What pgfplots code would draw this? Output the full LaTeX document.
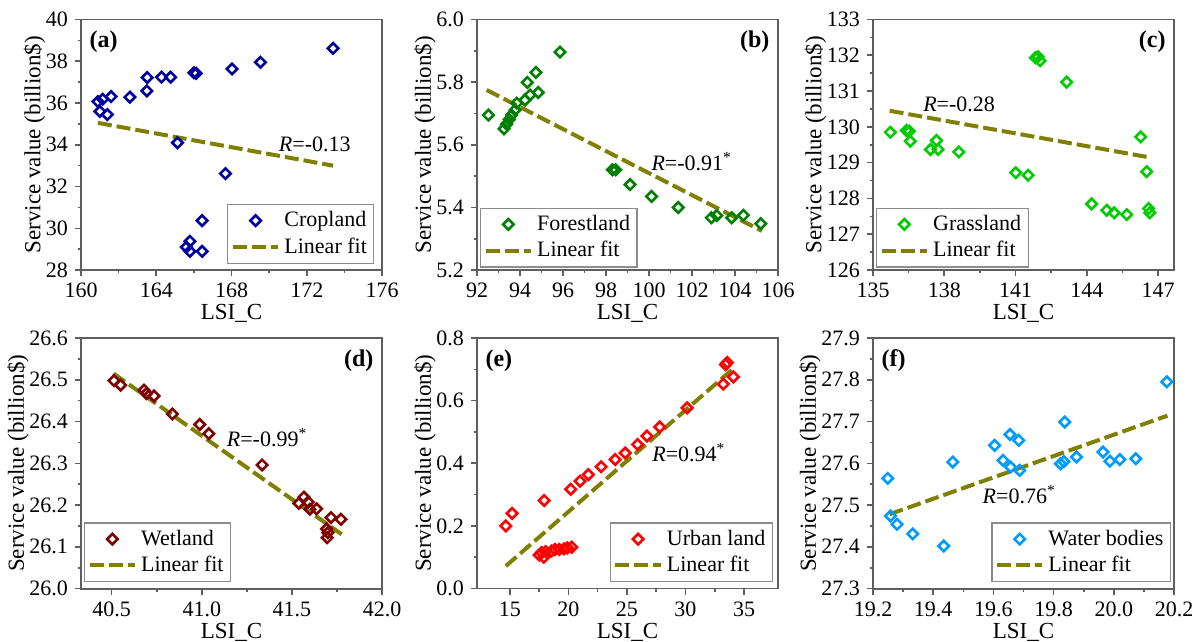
\documentclass[border=0pt]{standalone}
\usepackage{fontspec}
\setmainfont{Liberation Serif}
\usepackage{pgfplots}
\pgfplotsset{compat=1.18}

\definecolor{framec}{RGB}{95,95,95}
\definecolor{legc}{RGB}{140,140,140}
\definecolor{fitc}{RGB}{128,128,0}
\definecolor{cropc}{RGB}{0,0,160}
\definecolor{forc}{RGB}{0,128,0}
\definecolor{grassc}{RGB}{0,205,0}
\definecolor{wetc}{RGB}{128,0,0}
\definecolor{urbc}{RGB}{255,0,0}
\definecolor{watc}{RGB}{0,155,255}

\pgfplotsset{
  panel/.style={
    scale only axis, width=150.5pt, height=125.3pt, anchor=north west,
    axis line style={draw=framec, line width=0.9pt},
    tick align=outside, tick pos=left,
    major tick length=3pt, minor tick length=1.6pt,
    tick style={draw=framec, line width=0.8pt},
    minor x tick num=1, minor y tick num=1,
    /pgf/number format/assume math mode=true,
    tick label style={font=\fontsize{11}{13}\selectfont},
    label style={font=\fontsize{11.5}{13}\selectfont},
    xlabel={LSI\_C}, ylabel={Service value (billion\$)},
    xlabel shift=-3.5pt, ylabel shift=-6.5pt,
    legend cell align=left,
    legend style={draw=legc, line width=0.6pt, font=\fontsize{11}{13}\selectfont, inner sep=1.5pt},
  },
  scat/.style={only marks, mark=square, mark size=1.85pt, color=#1,
    mark options={rotate=45, line width=1.3pt, solid},
    legend image code/.code={\draw[mark repeat=2,mark phase=2,##1] plot coordinates {(0cm,0cm)(0.4cm,0cm)(0.8cm,0cm)};}},
  fit/.style={fitc, line width=2pt, dash pattern=on 7pt off 2.5pt,
    legend image code/.code={\draw[##1] (0cm,0cm) -- (0.8cm,0cm);}},
  oneprec/.style={#1ticklabel style={/pgf/number format/.cd, fixed, fixed zerofill, precision=1}},
}
\newcommand{\plab}[3]{\node[anchor=#2, inner sep=0pt, font=\fontsize{12}{14}\selectfont\bfseries] at (rel axis cs:#1) {#3};}
\newcommand{\rlab}[2]{\node[anchor=west, inner sep=0pt, font=\fontsize{11}{13}\selectfont] at (axis cs:#1) {#2};}

\begin{document}
\begin{tikzpicture}
% (a) Cropland
\begin{axis}[panel, at={(40.5pt,-9.75pt)},
  xmin=160, xmax=176, ymin=28, ymax=40,
  xtick={160,164,168,172,176}, ytick={28,30,32,34,36,38,40},
  legend style={at={(0.975,0.025)}, anchor=south east}]
\addplot[scat=cropc] coordinates {
 (160.9,36.07)(161.0,35.6)(161.15,36.18)(161.4,35.45)(161.6,36.31)(162.6,36.28)
 (163.5,36.58)(163.52,37.22)(164.28,37.24)(164.76,37.24)(166.0,37.45)(166.12,37.42)
 (168.03,37.63)(169.54,37.95)(173.4,38.62)(165.13,34.1)(167.68,32.62)(166.44,30.37)
 (165.6,29.1)(165.79,29.38)(165.79,28.9)(166.44,28.9)};
\addlegendentry{Cropland}
\addplot[fit] coordinates {(160.9,35.05)(173.4,33.0)};
\addlegendentry{Linear fit}
\rlab{170.5,34.0}{\textit{R}=-0.13}
\plab{0.027,0.955}{north west}{(a)}
\end{axis}

% (b) Forestland
\begin{axis}[panel, oneprec=y, at={(238.5pt,-9.75pt)},
  xmin=92, xmax=106, ymin=5.2, ymax=6.0,
  xtick={92,94,96,98,100,102,104,106}, ytick={5.2,5.4,5.6,5.8,6.0},
  legend style={at={(0.01,0.01)}, anchor=south west}]
\addplot[scat=forc] coordinates {
 (92.53,5.695)(93.26,5.651)(93.38,5.666)(93.5,5.681)(93.61,5.695)(93.77,5.711)
 (93.85,5.733)(94.23,5.743)(94.47,5.759)(94.34,5.799)(94.74,5.831)(94.85,5.767)
 (95.86,5.896)(98.3,5.52)(98.45,5.52)(99.12,5.473)(100.12,5.435)(101.36,5.40)
 (102.9,5.367)(103.15,5.374)(103.85,5.367)(104.39,5.375)(105.2,5.348)};
\addlegendentry{Forestland}
\addplot[fit] coordinates {(92.45,5.775)(105.25,5.325)};
\addlegendentry{Linear fit}
\rlab{100.1,5.545}{\textit{R}=-0.91\textsuperscript{*}}
\plab{0.973,0.955}{north east}{(b)}
\end{axis}

% (c) Grassland
\begin{axis}[panel, at={(436.5pt,-9.75pt)},
  xmin=135, xmax=147.67, ymin=126, ymax=133,
  xtick={135,138,141,144,147}, ytick={126,127,128,129,130,131,132,133},
  legend style={at={(0.01,0.01)}, anchor=south west}]
\addplot[scat=grassc] coordinates {
 (135.73,129.85)(136.41,129.9)(136.53,129.88)(136.57,129.6)(137.42,129.37)(137.67,129.62)
 (137.74,129.37)(138.61,129.3)(141.01,128.72)(141.53,128.65)(141.84,131.93)(141.95,131.96)
 (142.03,131.85)(143.15,131.25)(144.2,127.85)(144.84,127.67)(145.15,127.6)(145.68,127.55)
 (146.27,129.72)(146.52,128.75)(146.6,127.72)(146.65,127.6)};
\addlegendentry{Grassland}
\addplot[fit] coordinates {(135.7,130.45)(146.62,129.15)};
\addlegendentry{Linear fit}
\rlab{137.1,130.64}{\textit{R}=-0.28}
\plab{0.973,0.955}{north east}{(c)}
\end{axis}

% (d) Wetland
\begin{axis}[panel, oneprec=x, oneprec=y, at={(40.5pt,-169pt)},
  xmin=40.33, xmax=42, ymin=26.0, ymax=26.6,
  xtick={40.5,41.0,41.5,42.0}, ytick={26.0,26.1,26.2,26.3,26.4,26.5,26.6},
  legend style={at={(0.01,0.025)}, anchor=south west}]
\addplot[scat=wetc] coordinates {
 (40.513,26.498)(40.55,26.487)(40.68,26.475)(40.693,26.467)(40.735,26.461)(40.837,26.418)
 (40.989,26.393)(41.039,26.371)(41.335,26.296)(41.539,26.204)(41.567,26.219)(41.59,26.207)
 (41.6,26.19)(41.637,26.191)(41.693,26.143)(41.696,26.122)(41.70,26.134)(41.717,26.170)
 (41.772,26.166)};
\addlegendentry{Wetland}
\addplot[fit] coordinates {(40.51,26.515)(41.776,26.13)};
\addlegendentry{Linear fit}
\rlab{41.137,26.361}{\textit{R}=-0.99\textsuperscript{*}}
\plab{0.973,0.955}{north east}{(d)}
\end{axis}

% (e) Urban land
\begin{axis}[panel, oneprec=y, at={(238.5pt,-169pt)},
  xmin=12.2, xmax=37.9, ymin=0, ymax=0.8,
  xtick={15,20,25,30,35}, ytick={0,0.2,0.4,0.6,0.8},
  legend style={at={(0.983,0.025)}, anchor=south east}]
\addplot[scat=urbc] coordinates {
 (14.66,0.2)(15.2,0.24)(17.94,0.281)(17.51,0.107)(17.71,0.115)(17.91,0.1)(18.06,0.118)
 (18.57,0.12)(18.86,0.125)(19.23,0.125)(19.63,0.127)(19.91,0.13)(20.29,0.132)(20.2,0.317)
 (21.0,0.343)(21.71,0.364)(22.8,0.389)(24.0,0.412)(24.86,0.433)(25.91,0.46)(26.71,0.487)
 (27.8,0.516)(30.14,0.577)(33.23,0.653)(33.43,0.715)(33.57,0.722)(34.09,0.676)};
\addlegendentry{Urban land}
\addplot[fit] coordinates {(14.66,0.072)(34.14,0.704)};
\addlegendentry{Linear fit}
\rlab{27.14,0.433}{\textit{R}=0.94\textsuperscript{*}}
\plab{0.027,0.955}{north west}{(e)}
\end{axis}

% (f) Water bodies
\begin{axis}[panel, oneprec=x, oneprec=y, at={(436.5pt,-169pt)},
  xmin=19.2, xmax=20.2, ymin=27.3, ymax=27.9,
  xtick={19.2,19.4,19.6,19.8,20.0,20.2}, ytick={27.3,27.4,27.5,27.6,27.7,27.8,27.9},
  legend style={at={(0.99,0.025)}, anchor=south east}]
\addplot[scat=watc] coordinates {
 (19.249,27.564)(19.258,27.474)(19.28,27.454)(19.332,27.431)(19.435,27.402)(19.465,27.603)
 (19.604,27.643)(19.632,27.607)(19.655,27.669)(19.657,27.591)(19.684,27.655)(19.687,27.583)
 (19.823,27.599)(19.834,27.604)(19.837,27.699)(19.876,27.615)(19.964,27.627)(19.987,27.605)
 (20.02,27.609)(20.073,27.611)(20.176,27.795)};
\addlegendentry{Water bodies}
\addplot[fit] coordinates {(19.255,27.478)(20.178,27.714)};
\addlegendentry{Linear fit}
\rlab{19.563,27.526}{\textit{R}=0.76\textsuperscript{*}}
\plab{0.027,0.955}{north west}{(f)}
\end{axis}

\pgfresetboundingbox
\path[use as bounding box] (0,0) rectangle (602pt,-321pt);
\end{tikzpicture}
\end{document}
